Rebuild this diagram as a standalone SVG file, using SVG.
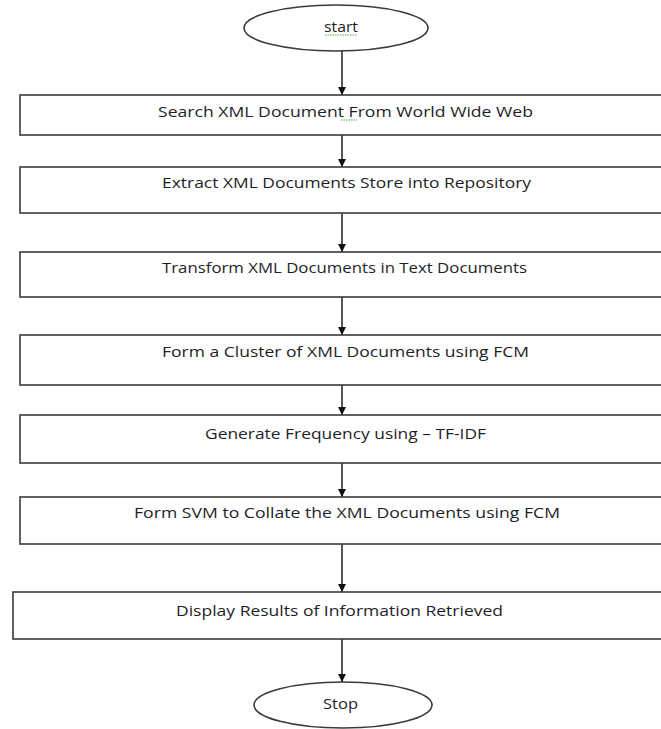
<svg xmlns="http://www.w3.org/2000/svg" width="661" height="729" viewBox="0 0 661 729">
<style>
.box{fill:#fff;stroke:#3a3a3a;stroke-width:1.6}
.oval{fill:#fff;stroke:#3a3a3a;stroke-width:1.6}
.lbl{font-family:"Open Sans","Liberation Sans",sans-serif;font-size:14px;fill:#1e1e28;text-anchor:start}
.conn{stroke:#111;stroke-width:1.4;fill:none}
.sq{stroke:#3cb43c;stroke-width:1;fill:none;stroke-dasharray:1.5 1}
</style>
<defs>
<marker id="ah" viewBox="0 0 10 10" refX="10" refY="5" markerWidth="8" markerHeight="8" markerUnits="userSpaceOnUse" orient="auto">
<path d="M0,0 L10,5 L0,10 Z" fill="#111"/>
</marker>
</defs>
<rect width="661" height="729" fill="#fff"/>
<g id="connectors">
<line class="conn" x1="342" y1="51" x2="342" y2="95" marker-end="url(#ah)"/>
<line class="conn" x1="342" y1="135" x2="342" y2="167" marker-end="url(#ah)"/>
<line class="conn" x1="342" y1="213" x2="342" y2="252" marker-end="url(#ah)"/>
<line class="conn" x1="342" y1="297" x2="342" y2="335" marker-end="url(#ah)"/>
<line class="conn" x1="342" y1="385" x2="342" y2="415" marker-end="url(#ah)"/>
<line class="conn" x1="342" y1="463" x2="342" y2="497" marker-end="url(#ah)"/>
<line class="conn" x1="342" y1="544" x2="342" y2="592" marker-end="url(#ah)"/>
<line class="conn" x1="342" y1="639" x2="342" y2="682" marker-end="url(#ah)"/>
</g>
<g id="start">
<ellipse class="oval" cx="336" cy="28" rx="92" ry="23"/>
<text class="lbl" x="324" y="32" textLength="34" lengthAdjust="spacingAndGlyphs">start</text>
<path class="sq" d="M325,35 L357,35"/>
</g>
<g id="n1">
<rect class="box" x="20" y="95" width="643" height="40"/>
<text class="lbl" x="158" y="117" textLength="375" lengthAdjust="spacingAndGlyphs">Search XML Document From World Wide Web</text>
<path class="sq" d="M341,120 L357,120"/>
</g>
<g id="n2">
<rect class="box" x="20" y="167" width="643" height="46"/>
<text class="lbl" x="162" y="188" textLength="369" lengthAdjust="spacingAndGlyphs">Extract XML Documents Store into Repository</text>
</g>
<g id="n3">
<rect class="box" x="20" y="252" width="643" height="45"/>
<text class="lbl" x="162" y="273" textLength="365" lengthAdjust="spacingAndGlyphs">Transform XML Documents in Text Documents</text>
</g>
<g id="n4">
<rect class="box" x="20" y="335" width="643" height="50"/>
<text class="lbl" x="162" y="357" textLength="367" lengthAdjust="spacingAndGlyphs">Form a Cluster of XML Documents using FCM</text>
</g>
<g id="n5">
<rect class="box" x="20" y="415" width="643" height="48"/>
<text class="lbl" x="205" y="439" textLength="281" lengthAdjust="spacingAndGlyphs">Generate Frequency using – TF-IDF</text>
</g>
<g id="n6">
<rect class="box" x="20" y="497" width="643" height="47"/>
<text class="lbl" x="134" y="518" textLength="426" lengthAdjust="spacingAndGlyphs">Form SVM to Collate the XML Documents using FCM</text>
</g>
<g id="n7">
<rect class="box" x="13" y="592" width="650" height="47"/>
<text class="lbl" x="176" y="616" textLength="327" lengthAdjust="spacingAndGlyphs">Display Results of Information Retrieved</text>
</g>
<g id="stop">
<ellipse class="oval" cx="343" cy="705" rx="89" ry="23"/>
<text class="lbl" x="323" y="709" textLength="35" lengthAdjust="spacingAndGlyphs">Stop</text>
</g>
</svg>
